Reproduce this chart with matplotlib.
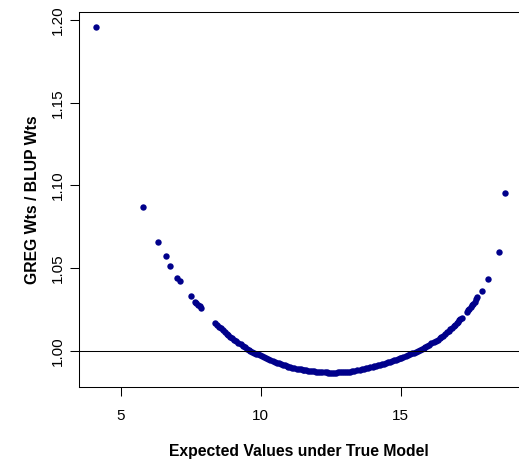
import numpy as np
import matplotlib
matplotlib.use("Agg")
import matplotlib.pyplot as plt

plt.rcParams['font.family'] = ['Liberation Sans', 'DejaVu Sans']

# expected values under true model (x) and weight ratio (y)
x_left = [4.10, 5.78, 6.31, 6.60, 6.76, 7.01, 7.12, 7.50, 7.65, 7.70, 7.76, 7.81, 7.86]
y_left = [1.196, 1.087, 1.0657, 1.0576, 1.0512, 1.0443, 1.0423, 1.033, 1.0298, 1.0290,
          1.028, 1.0270, 1.026]

x_mid = [8.36, 8.50, 8.65, 8.78, 8.90, 9.05, 9.20, 9.35, 9.50, 9.61,
         9.75, 9.90, 10.05, 10.20, 10.33, 10.50, 10.65, 10.80, 10.92, 11.04,
         11.20, 11.35, 11.50, 11.62, 11.76, 11.90, 12.05, 12.20, 12.35, 12.47,
         12.60, 12.75, 12.90, 13.05, 13.19, 13.35, 13.54, 13.70, 13.85, 14.00,
         14.13, 14.26, 14.40, 14.55, 14.70, 14.84, 14.97, 15.10, 15.25, 15.40,
         15.55, 15.69, 15.82, 15.95, 16.10, 16.25, 16.40, 16.52, 16.65, 16.78,
         16.90, 17.00, 17.10, 17.18]
y_mid = [1.0167, 1.0146, 1.0124, 1.0104, 1.0086, 1.0068, 1.0050, 1.0032, 1.0014, 1.0000,
         0.9990, 0.9979, 0.9968, 0.9956, 0.9946, 0.9935, 0.9926, 0.9916, 0.9909, 0.9902,
         0.9896, 0.9891, 0.9886, 0.9883, 0.9879, 0.9876, 0.9873, 0.9871, 0.9870, 0.9869,
         0.9869, 0.9870, 0.9871, 0.9873, 0.9875, 0.9879, 0.9885, 0.9891, 0.9897, 0.9904,
         0.9909, 0.9915, 0.9922, 0.9931, 0.9940, 0.9948, 0.9956, 0.9964, 0.9974, 0.9985,
         0.9996, 1.0006, 1.0018, 1.0031, 1.0046, 1.0061, 1.0077, 1.0093, 1.0112, 1.0132,
         1.0151, 1.0167, 1.0184, 1.0198]

# second pass of readings in the dense part of the arc
x_mid2 = [8.43, 8.58, 8.72, 8.84, 8.98, 9.12, 9.28, 9.42, 9.56, 9.68,
          9.83, 9.98, 10.12, 10.27, 10.42, 10.58, 10.72, 10.86, 10.98, 11.12,
          11.28, 11.42, 11.56, 11.69, 11.83, 11.98, 12.12, 12.28, 12.41, 12.54,
          12.68, 12.82, 12.98, 13.12, 13.27, 13.45, 13.62, 13.78, 13.92, 14.06,
          14.20, 14.33, 14.48, 14.62, 14.77, 14.90, 15.03, 15.18, 15.32, 15.48,
          15.62, 15.76, 15.88, 16.02, 16.18, 16.32, 16.46, 16.58, 16.72, 16.84,
          16.95, 17.05, 17.14]
y_mid2 = [1.0157, 1.0136, 1.0114, 1.0095, 1.0077, 1.0059, 1.0041, 1.0023, 1.0007, 0.9995,
          0.9984, 0.9973, 0.9962, 0.9951, 0.9940, 0.9930, 0.9921, 0.9912, 0.9905, 0.9899,
          0.9893, 0.9888, 0.9884, 0.9881, 0.9877, 0.9874, 0.9872, 0.9870, 0.9869, 0.9868,
          0.9869, 0.9870, 0.9872, 0.9874, 0.9877, 0.9882, 0.9888, 0.9894, 0.9900, 0.9906,
          0.9912, 0.9918, 0.9926, 0.9935, 0.9944, 0.9952, 0.9960, 0.9969, 0.9979, 0.9990,
          1.0001, 1.0012, 1.0024, 1.0038, 1.0053, 1.0069, 1.0085, 1.0102, 1.0122, 1.0141,
          1.0159, 1.0175, 1.0191]

x_right = [17.36, 17.40, 17.45, 17.50, 17.55, 17.60, 17.65, 17.70, 17.75, 17.92,
           18.13, 18.51, 18.74]
y_right = [1.0237, 1.0245, 1.0254, 1.0265, 1.0275, 1.0286, 1.0298, 1.0311, 1.0324, 1.0360,
           1.0435, 1.0596, 1.0953]

x_ticks = [5, 10, 15]
y_ticks = [1.00, 1.05, 1.10, 1.15, 1.20]

xs = np.array(x_left + x_mid + x_mid2 + x_right)
ys = np.array(y_left + y_mid + y_mid2 + y_right)

W, H = 519, 461
fig = plt.figure(figsize=(W / 100, H / 100), dpi=100)
ax = fig.add_axes([78.5 / W, (H - 387) / H, (520 - 78.5) / W, 375 / H])

ax.plot(xs, ys, 'o', color='#00008B', ms=4.6, mew=0)
ax.axhline(1.0, color='black', lw=0.75)

ax.set_xlim(3.48, 19.27)
ax.set_ylim(0.9782, 1.2048)
ax.set_xticks(x_ticks)
ax.set_yticks(y_ticks)
ax.set_yticklabels(['%.2f' % v for v in y_ticks], rotation=90, va='center')

for s in ax.spines.values():
    s.set_linewidth(0.75)
ax.tick_params(direction='out', length=6.5, width=0.75, labelsize=11)
ax.tick_params(axis='x', pad=9.5)
ax.tick_params(axis='y', pad=3)

ax.set_xlabel('Expected Values under True Model', fontsize=11.3, fontweight='bold', labelpad=15)
ax.set_ylabel('GREG Wts / BLUP Wts', fontsize=11.3, fontweight='bold', labelpad=8)

fig.savefig('out.png', dpi=100)
